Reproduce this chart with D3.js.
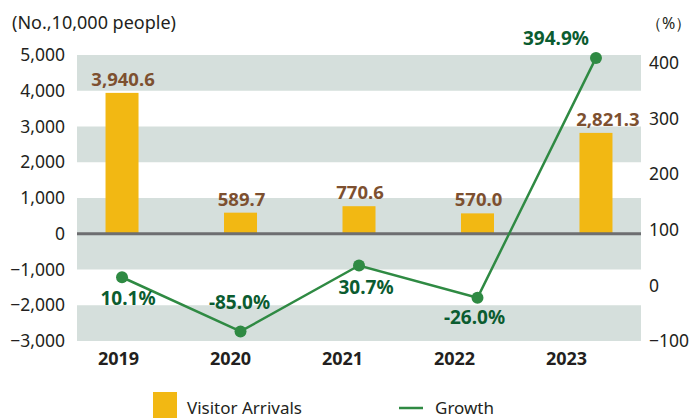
<!DOCTYPE html>
<html>
<head>
<meta charset="utf-8">
<script src="https://cdn.jsdelivr.net/npm/d3@7"></script>
<style>
  html, body { margin: 0; padding: 0; background: #fff; }
  svg text { font-family: "Noto Sans", "Open Sans", sans-serif; fill: #231f20; }
  .axis path, .axis line { display: none; }
  .axis text { font-size: 17.5px; }
  .x-axis text { font-weight: bold; font-size: 18px; }
</style>
</head>
<body>
<div id="chart"></div>
<script>
// data
const years = ['2019', '2020', '2021', '2022', '2023'];
const arrivals = [3940.6, 589.7, 770.6, 570.0, 2821.3];
const growth = [10.1, -85.0, 30.7, -26.0, 394.9];
const leftTicks = [5000, 4000, 3000, 2000, 1000, 0, -1000, -2000, -3000];
const rightTicks = [400, 300, 200, 100, 0, -100];
// shaded bands on the left axis [from, to]
const bands = [[4000, 5000], [2000, 3000], [-1000, 1000], [-3000, -2000]];

const W = 693, H = 418;
const plot = { left: 77, right: 641, top: 55, bottom: 341 };

const svg = d3.select('#chart').append('svg')
  .attr('width', W)
  .attr('height', H);

// scales
const x = d3.scalePoint().domain(years).range([plot.left, plot.right]).padding(0.38);
// year labels sit a bit left of the bars in the original
const xLabel = d3.scalePoint().domain(years).range([118, 566]);
const y = d3.scaleLinear().domain([-3000, 5000]).range([plot.bottom, plot.top]);
const y2 = d3.scaleLinear().domain([-100, 400]).range([plot.bottom - 1, plot.top]);
// right tick labels are spaced a little tighter than the line scale
const y2Label = d3.scaleLinear().domain([-100, 400]).range([plot.bottom, 63]);

// background bands
svg.append('g').selectAll('rect')
  .data(bands)
  .join('rect')
  .attr('x', plot.left)
  .attr('width', plot.right - plot.left)
  .attr('y', d => y(d[1]))
  .attr('height', d => y(d[0]) - y(d[1]))
  .attr('fill', '#d5dfdc');

// bars
const barW = 33;
svg.append('g').selectAll('rect')
  .data(arrivals)
  .join('rect')
  .attr('x', (d, i) => x(years[i]) - barW / 2)
  .attr('width', barW)
  .attr('y', d => y(d))
  .attr('height', d => y(0) - y(d))
  .attr('fill', '#f2b813');

// zero line
svg.append('line')
  .attr('x1', plot.left).attr('x2', plot.right)
  .attr('y1', y(0)).attr('y2', y(0))
  .attr('stroke', '#6d6e71')
  .attr('stroke-width', 3);

// bar value labels
svg.append('g').selectAll('text')
  .data(arrivals)
  .join('text')
  .attr('x', (d, i) => x(years[i]) + (i === 4 ? 12 : 1))
  .attr('y', d => y(d) - 7)
  .attr('text-anchor', 'middle')
  .style('font-size', '18.5px')
  .style('font-weight', 'bold')
  .style('fill', '#7d5030')
  .text(d => d3.format(',.1f')(d));

// growth line
const line = d3.line()
  .x((d, i) => x(years[i]))
  .y(d => y2(d));

svg.append('path')
  .datum(growth)
  .attr('d', line)
  .attr('fill', 'none')
  .attr('stroke', '#2f8a43')
  .attr('stroke-width', 2.5);

svg.append('g').selectAll('circle')
  .data(growth)
  .join('circle')
  .attr('cx', (d, i) => x(years[i]))
  .attr('cy', d => y2(d))
  .attr('r', 6)
  .attr('fill', '#2f8a43');

// growth labels, nudged per point like the original
const gOff = [[6, 28], [-1, -22], [7, 28], [-3, 26], [-40, -13]];
svg.append('g').selectAll('text')
  .data(growth)
  .join('text')
  .attr('x', (d, i) => x(years[i]) + gOff[i][0])
  .attr('y', (d, i) => y2(d) + gOff[i][1])
  .attr('text-anchor', 'middle')
  .style('font-size', '19px')
  .style('font-weight', 'bold')
  .style('fill', '#0b5c30')
  .text(d => d.toFixed(1) + '%');

// axes
svg.append('g')
  .attr('class', 'axis y-axis')
  .attr('transform', `translate(${plot.left},0)`)
  .call(d3.axisLeft(y).tickValues(leftTicks).tickSize(0).tickPadding(12)
    .tickFormat(d3.format(',')));

svg.append('g')
  .attr('class', 'axis y2-axis')
  .attr('transform', `translate(${plot.right},0)`)
  .call(d3.axisRight(y2Label).tickValues(rightTicks).tickSize(0).tickPadding(8));

svg.append('g')
  .attr('class', 'axis x-axis')
  .attr('transform', `translate(0,${plot.bottom})`)
  .call(d3.axisBottom(xLabel).tickSize(0).tickPadding(11));

// axis titles
svg.append('text')
  .attr('x', 12).attr('y', 29)
  .style('font-size', '18px')
  .text('(No.,10,000 people)');

svg.append('text')
  .attr('x', 646).attr('y', 29)
  .style('font-size', '16px')
  .text('（%）');

// legend
const legend = svg.append('g');
legend.append('rect')
  .attr('x', 153).attr('y', 392)
  .attr('width', 24).attr('height', 26)
  .attr('fill', '#f2b813');
legend.append('text')
  .attr('x', 187).attr('y', 414)
  .style('font-size', '17px')
  .text('Visitor Arrivals');
legend.append('line')
  .attr('x1', 399).attr('x2', 423)
  .attr('y1', 408).attr('y2', 408)
  .attr('stroke', '#2f8a43')
  .attr('stroke-width', 2.5);
legend.append('text')
  .attr('x', 435).attr('y', 414)
  .style('font-size', '17px')
  .text('Growth');
</script>
</body>
</html>
